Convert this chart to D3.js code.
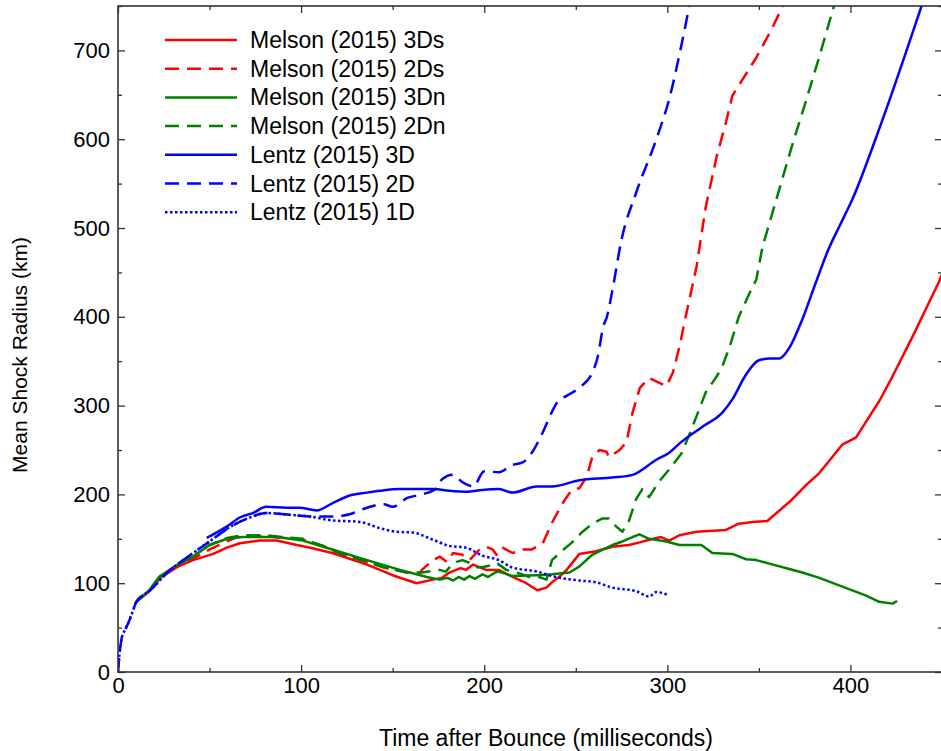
<!DOCTYPE html>
<html>
<head>
<meta charset="utf-8">
<script src="https://cdn.jsdelivr.net/npm/d3@7"></script>
<style>
  html, body { margin: 0; padding: 0; background: #fff; }
  svg { display: block; font-family: "Liberation Sans", Arial, Helvetica, sans-serif; }
</style>
</head>
<body>
<div id="chart"></div>
<script>
// ---------------------------------------------------------------------------
// Mean shock radius vs. time after bounce — Melson (2015) & Lentz (2015)
// ---------------------------------------------------------------------------

// [time (ms), mean shock radius (km)]
const melson3Ds = [
  [10, 79], [17, 91], [23, 106], [32, 118], [41, 126], [52, 133], [59.5, 140], [66.6, 145],
  [77.5, 148], [86.7, 148], [97.6, 143], [105, 140], [117, 134], [136, 121], [150, 109],
  [163, 100], [172, 104], [177, 106], [181, 112], [187, 117], [190, 115], [194, 121],
  [201, 115], [208, 115], [215.5, 107], [223, 100], [229, 92], [234, 95], [237, 101],
  [242, 109], [245, 115], [252, 133], [261, 136], [270, 141], [279, 143], [285, 146],
  [290, 149], [296.6, 152], [301, 148], [306.6, 154], [316, 158], [332, 160], [339, 167],
  [346.6, 169], [354.6, 170], [368, 194], [376, 211], [383, 224], [395.5, 256], [403, 264],
  [416, 306], [423, 333], [434, 378], [448.5, 440], [450, 448]
];

const melson2Ds = [
  [10, 79], [17, 91], [23, 106], [32, 118], [41, 128], [45, 132], [50, 138], [59.5, 147],
  [65, 152], [75, 153], [85, 152], [95, 150], [101, 149], [112, 142], [123, 132], [136, 124],
  [145, 118], [157.7, 112], [165, 112], [166, 115], [172, 126], [175.7, 130], [179.5, 124],
  [183, 134], [188, 132], [192, 126], [197.5, 138], [201, 141], [204.6, 138], [206.7, 132],
  [210, 140], [215.5, 134], [221, 138], [226, 138], [232, 145], [237, 168], [242.8, 190],
  [247.7, 205], [252, 207], [256, 220], [259, 242], [263, 250], [266.8, 248], [268, 242],
  [274, 250], [277.7, 259], [281, 292], [285, 320], [290, 331], [299.5, 322], [303, 337],
  [306.6, 366], [310, 400], [316, 457], [321, 524], [327, 581], [332, 619], [335.5, 649],
  [341, 667], [348.6, 692], [357, 724], [363, 750]
];

const melson3Dn = [
  [10, 79], [17, 92], [23, 108], [32, 120], [41, 130], [50, 143], [59.5, 150], [68, 152],
  [86.7, 152], [101, 148], [117, 138], [136, 126], [154, 115], [168.6, 107], [175.7, 104],
  [180, 106], [183, 103], [186, 107], [189, 104], [192, 108], [195, 105], [199, 110],
  [202, 107], [206, 112], [208, 113], [215.5, 108], [228.6, 109], [237, 110], [246.6, 112],
  [252, 119], [259, 132], [263, 136], [270, 143], [275.5, 147], [281, 152], [284.8, 155],
  [290, 150], [299.5, 147], [306.6, 143], [318.6, 143], [324.6, 134], [335.5, 133],
  [343, 127], [348.6, 126], [355.7, 122], [366.6, 116], [373.7, 112], [383, 106], [392, 99],
  [401, 92], [408.6, 86], [415.7, 79], [423, 77], [425.5, 80]
];

const melson2Dn = [
  [10, 79], [17, 92], [23, 108], [32, 120], [41, 130], [50, 143], [59.5, 151], [68, 154],
  [80, 154], [90, 152], [101, 150], [112, 142], [123, 132], [136, 124], [145, 118],
  [157.7, 112], [166, 112], [172, 114], [175.7, 115], [179, 113], [182, 120], [185, 124],
  [188, 126], [192, 123], [196, 118], [199, 118], [203, 120], [206.7, 123], [212, 115],
  [217.7, 112], [224.8, 107], [230, 107], [234, 104], [235.7, 116], [237, 126], [242.8, 137],
  [248, 146], [253.7, 158], [259, 167], [264.6, 173], [268, 173], [272, 164], [275.5, 158],
  [279, 170], [283, 195], [286.4, 206], [290, 197], [295.7, 215], [301, 228], [308, 247],
  [313.7, 276], [321, 315], [327, 333], [330, 344], [334, 366], [339, 400], [345, 427],
  [348.6, 442], [352, 479], [359.5, 532], [368, 592], [376, 645], [383, 693], [390, 743],
  [391, 750]
];

const lentz3D = [
  [48.5, 151], [59.5, 164], [66.5, 174], [73.6, 179], [81, 186], [92, 185], [99, 185],
  [108.5, 182], [117, 190], [127, 199], [136, 202], [143, 204], [154, 206], [172, 206],
  [181, 204], [190, 203], [199, 205], [208, 206], [215.5, 202], [228.6, 209], [237, 209],
  [252, 216], [270, 219], [281, 222], [294, 239], [301, 247], [307, 258], [319, 276],
  [330, 292], [335.5, 307], [343, 335], [350, 351], [356, 353], [361, 353], [366.6, 365],
  [373.7, 397], [381, 438], [388, 476], [394, 502], [401, 532], [417, 619], [439, 751]
];

const lentz2D = [
  [0, 0], [0.8, 20], [2, 38], [4, 48], [6, 57], [8, 68], [10, 79], [17, 91], [28, 114],
  [39, 131], [50, 147], [61, 163], [72, 174], [81, 179], [94, 177], [99, 176], [108, 175],
  [117, 175], [127, 178], [136, 185], [145, 189], [150, 186], [158, 196], [166, 200],
  [174, 207], [177, 217], [183, 222], [188, 214], [194, 209], [200, 226], [208, 225],
  [215, 233], [221, 236], [226, 247], [232, 270], [237, 293], [240, 304], [245, 311],
  [250, 317], [253, 322], [259, 337], [262, 355], [265, 389], [267, 400], [270, 430],
  [275, 487], [283, 540], [294, 600], [301, 645], [308, 709], [312, 750]
];

const lentz1D = [
  [0, 0], [0.8, 20], [2, 38], [4, 48], [6, 57], [8, 68], [10, 79], [17, 91], [28, 114],
  [39, 131], [50, 147], [61, 163], [72, 174], [81, 179], [94, 177], [105, 175], [116, 171],
  [132, 169], [143, 162], [152, 158], [161, 157], [172, 149], [181, 142], [190, 140],
  [199, 131], [208, 126], [215, 118], [229, 113], [239, 107], [252, 103], [261, 101],
  [270, 95], [283, 91], [290, 85], [294, 90], [300, 87]
];

const seriesNames = [
  'Melson (2015) 3Ds', 'Melson (2015) 2Ds', 'Melson (2015) 3Dn', 'Melson (2015) 2Dn',
  'Lentz (2015) 3D', 'Lentz (2015) 2D', 'Lentz (2015) 1D'
];
const seriesData = [melson3Ds, melson2Ds, melson3Dn, melson2Dn, lentz3D, lentz2D, lentz1D];

const xMajorTicks = [0, 100, 200, 300, 400];
const xMinorTicks = [50, 150, 250, 350, 450];
const yMajorTicks = [0, 100, 200, 300, 400, 500, 600, 700];
const yMinorTicks = [50, 150, 250, 350, 450, 550, 650, 750];

// ---------------------------------------------------------------------------

const W = 941, H = 751;
const plot = { left: 118, right: 942, top: 6, bottom: 672 };

// Melson runs are coarse-sampled (straight segments); Lentz runs look smooth
const styles = [
  { color: '#ff0000', dash: null, curve: d3.curveLinear },
  { color: '#ff0000', dash: '14,8', curve: d3.curveLinear },
  { color: '#008000', dash: null, curve: d3.curveLinear },
  { color: '#008000', dash: '14,8', curve: d3.curveLinear },
  { color: '#0000ff', dash: null, curve: d3.curveMonotoneX },
  { color: '#0000ff', dash: '14,8', curve: d3.curveMonotoneX },
  { color: '#0000ff', dash: '2.5,2.5', curve: d3.curveMonotoneX }
];

const svg = d3.select('#chart').append('svg')
  .attr('width', W).attr('height', H);

const x = d3.scaleLinear().domain([0, 450]).range([plot.left, plot.right]);
const y = d3.scaleLinear().domain([0, 750]).range([plot.bottom, plot.top]);

svg.append('clipPath').attr('id', 'clip')
  .append('rect')
  .attr('x', plot.left).attr('y', plot.top)
  .attr('width', plot.right - plot.left).attr('height', plot.bottom - plot.top);

// Curves
const curves = svg.append('g').attr('clip-path', 'url(#clip)');
seriesData.forEach((data, i) => {
  const line = d3.line().x(d => x(d[0])).y(d => y(d[1])).curve(styles[i].curve);
  curves.append('path')
    .datum(data)
    .attr('d', line)
    .attr('fill', 'none')
    .attr('stroke', styles[i].color)
    .attr('stroke-width', 2.5)
    .attr('stroke-linejoin', 'round')
    .attr('stroke-dasharray', styles[i].dash);
});

// Axes (ticks point inward, on all four sides)
const axisColor = '#333';
const tickFont = '22px';

function styleAxis(g) {
  g.select('.domain').remove();
  g.selectAll('.tick line').attr('stroke', axisColor).attr('stroke-width', 1.3);
  g.selectAll('.tick text').attr('fill', '#000').attr('font-size', tickFont)
    .attr('font-family', '"Liberation Sans", Arial, sans-serif');
}

svg.append('g').attr('transform', `translate(0,${plot.bottom})`)
  .call(d3.axisBottom(x).tickValues(xMajorTicks).tickSize(-7).tickPadding(5))
  .call(styleAxis);
svg.append('g').attr('transform', `translate(0,${plot.bottom})`)
  .call(d3.axisBottom(x).tickValues(xMinorTicks).tickSize(-4).tickFormat(''))
  .call(styleAxis);
svg.append('g').attr('transform', `translate(0,${plot.top})`)
  .call(d3.axisTop(x).tickValues(xMajorTicks).tickSize(-7).tickFormat(''))
  .call(styleAxis);
svg.append('g').attr('transform', `translate(0,${plot.top})`)
  .call(d3.axisTop(x).tickValues(xMinorTicks).tickSize(-4).tickFormat(''))
  .call(styleAxis);

svg.append('g').attr('transform', `translate(${plot.left},0)`)
  .call(d3.axisLeft(y).tickValues(yMajorTicks).tickSize(-7).tickPadding(8))
  .call(styleAxis);
svg.append('g').attr('transform', `translate(${plot.left},0)`)
  .call(d3.axisLeft(y).tickValues(yMinorTicks).tickSize(-4).tickFormat(''))
  .call(styleAxis);
svg.append('g').attr('transform', `translate(${plot.right},0)`)
  .call(d3.axisRight(y).tickValues(yMajorTicks).tickSize(-7).tickFormat(''))
  .call(styleAxis);
svg.append('g').attr('transform', `translate(${plot.right},0)`)
  .call(d3.axisRight(y).tickValues(yMinorTicks).tickSize(-4).tickFormat(''))
  .call(styleAxis);

// Frame
svg.append('rect')
  .attr('x', plot.left).attr('y', plot.top)
  .attr('width', plot.right - plot.left).attr('height', plot.bottom - plot.top)
  .attr('fill', 'none').attr('stroke', axisColor).attr('stroke-width', 1.6);

// Axis titles
svg.append('text')
  .attr('x', (plot.left + plot.right) / 2 + 16).attr('y', 746)
  .attr('text-anchor', 'middle').attr('font-size', '23px')
  .text('Time after Bounce (milliseconds)');

svg.append('text')
  .attr('transform', 'rotate(-90)')
  .attr('x', -355).attr('y', 27)
  .attr('text-anchor', 'middle').attr('font-size', '21px')
  .text('Mean Shock Radius (km)');

// Legend
const legend = svg.append('g').attr('transform', 'translate(165, 40)');
seriesNames.forEach((name, i) => {
  const row = legend.append('g').attr('transform', `translate(0, ${i * 28.7})`);
  row.append('line')
    .attr('x1', 0).attr('x2', 72).attr('y1', 0).attr('y2', 0)
    .attr('stroke', styles[i].color).attr('stroke-width', 2.5)
    .attr('stroke-dasharray', styles[i].dash);
  row.append('text')
    .attr('x', 85).attr('y', 8)
    .attr('font-size', '23px').attr('fill', '#000')
    .text(name);
});
</script>
</body>
</html>
